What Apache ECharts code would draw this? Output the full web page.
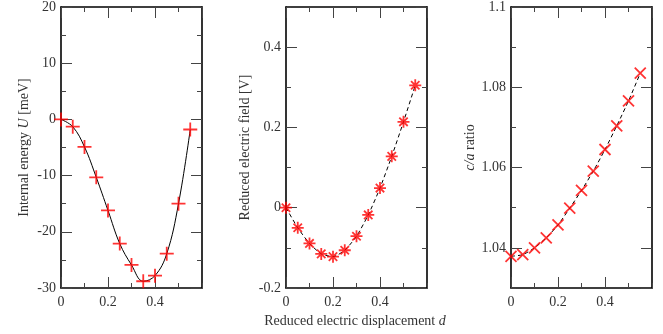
<!DOCTYPE html>
<html>
<head>
<meta charset="utf-8">
<script src="https://cdn.jsdelivr.net/npm/echarts@6/dist/echarts.min.js"></script>
<style>html,body{margin:0;padding:0;background:#fff}#c{width:663px;height:334px}</style>
</head>
<body>
<div id="c"></div>
<script>
// Data
var dValues = [0, 0.05, 0.1, 0.15, 0.2, 0.25, 0.3, 0.35, 0.4, 0.45, 0.5, 0.55];
var energyU = [0, -1.3, -4.9, -10.3, -16.2, -22.1, -25.9, -28.8, -27.8, -23.9, -15.0, -1.8];
var fieldE = [0, -0.050, -0.089, -0.115, -0.122, -0.106, -0.071, -0.018, 0.049, 0.128, 0.214, 0.305];
var caRatio = [1.0379, 1.0383, 1.0400, 1.0425, 1.0457, 1.0499, 1.0543, 1.0591, 1.0645, 1.0704, 1.0766, 1.0835];
var xLabelTitle = 'Reduced electric displacement ';
var yTitles = [
  ['Internal energy ', 'U', ' [meV]'],
  ['Reduced electric field [V]', '', ''],
  ['', 'c/a', ' ratio']
];

var FONT = '"Liberation Serif", "DejaVu Serif", serif';
var lefts = [61, 286, 511];
var W = 141, TOP = 7, H = 281;
var yCfg = [
  {min: -30, max: 20, major: 10, minor: 5, useInterval: true, hideMax: false, hideMin: false, gap: 30},
  {min: -0.2, max: 0.5, major: 0.2, minor: 0.1, useInterval: true, hideMax: true, hideMin: false, gap: 34},
  {min: 1.03, max: 1.1, major: null, minor: 0.01, useInterval: false, hideMax: false, hideMin: true, gap: 34}
];

function pair(arrX, arrY) { return arrX.map(function (x, i) { return [x, arrY[i]]; }); }

var grids = [], xAxes = [], yAxes = [], series = [];
var tickMajor = {show: true, inside: true, length: 11, lineStyle: {color: '#444', width: 1}};
var tickMinor = {show: true, inside: true, length: 5, lineStyle: {color: '#444', width: 1}};
var axLine = {show: true, onZero: false, lineStyle: {color: '#000', width: 1.6}};
var noLine = {show: false, onZero: false};

for (var g = 0; g < 3; g++) {
  grids.push({left: lefts[g], top: TOP, width: W, height: H, containLabel: false});
  ['bottom', 'top'].forEach(function (pos) {
    xAxes.push({type: 'value', gridIndex: g, position: pos, min: 0, max: 0.6, interval: 0.2,
      axisLine: axLine, axisTick: tickMajor, splitLine: {show: false},
      axisLabel: {show: pos === 'bottom', showMaxLabel: false, margin: 7,
        fontFamily: FONT, fontSize: 14, color: '#333'}});
    xAxes.push({type: 'value', gridIndex: g, position: pos, min: 0, max: 0.6, interval: 0.1,
      axisLine: noLine, axisTick: tickMinor, splitLine: {show: false}, axisLabel: {show: false}});
  });
  var c = yCfg[g];
  ['left', 'right'].forEach(function (pos) {
    var ax = {type: 'value', gridIndex: g, position: pos, min: c.min, max: c.max,
      axisLine: axLine, axisTick: tickMajor, splitLine: {show: false},
      axisLabel: {show: pos === 'left', showMaxLabel: !c.hideMax, showMinLabel: !c.hideMin, margin: 5,
        fontFamily: FONT, fontSize: 14, color: '#333'}};
    if (c.useInterval) ax.interval = c.major; else ax.splitNumber = 4;
    if (pos === 'left') {
      var t = yTitles[g];
      ax.name = (t[0] ? '{n|' + t[0] + '}' : '') + (t[1] ? '{i|' + t[1] + '}' : '') + (t[2] ? '{n|' + t[2] + '}' : '');
      ax.nameLocation = 'middle';
      ax.nameRotate = 90;
      ax.nameGap = c.gap;
      ax.nameTextStyle = {rich: {
        n: {fontFamily: FONT, fontSize: 14, color: '#333'},
        i: {fontFamily: FONT, fontSize: 14, color: '#333', fontStyle: 'italic'}
      }};
    }
    yAxes.push(ax);
    yAxes.push({type: 'value', gridIndex: g, position: pos, min: c.min, max: c.max, interval: c.minor,
      axisLine: noLine, axisTick: tickMinor, splitLine: {show: false}, axisLabel: {show: false}});
  });
}

var plusSym = 'path://M0,5L10,5M5,0L5,10';
var starSym = 'path://M0,5L10,5M5,0L5,10M1.5,1.5L8.5,8.5M8.5,1.5L1.5,8.5';
var xSym = 'path://M0,0L10,10M10,0L0,10';

var panelData = [energyU, fieldE, caRatio];
var syms = [plusSym, starSym, xSym];
var sizes = [14, 12, 11];
var dashed = [false, true, true];
for (var p = 0; p < 3; p++) {
  series.push({type: 'line', xAxisIndex: p * 4, yAxisIndex: p * 4, data: pair(dValues, panelData[p]),
    smooth: p === 0 ? 0.4 : 0.2, showSymbol: false, symbol: 'none', silent: true, z: 2,
    lineStyle: {color: '#000', width: 1, type: dashed[p] ? [4, 3] : 'solid'}});
  series.push({type: 'scatter', xAxisIndex: p * 4, yAxisIndex: p * 4, data: pair(dValues, panelData[p]),
    symbol: syms[p], symbolSize: sizes[p], z: 3,
    itemStyle: {color: 'rgba(0,0,0,0)', borderColor: '#ff0000', borderWidth: 1.8}});
}

var chart = echarts.init(document.getElementById('c'), null, {renderer: 'canvas'});
chart.setOption({
  animation: false,
  backgroundColor: '#fff',
  grid: grids,
  xAxis: xAxes,
  yAxis: yAxes,
  series: series,
  graphic: [{
    type: 'text', x: 355, y: 321,
    style: {text: '{n|' + xLabelTitle + '}{i|d}', align: 'center', verticalAlign: 'middle',
      rich: {
        n: {fontFamily: FONT, fontSize: 14, fill: '#333'},
        i: {fontFamily: FONT, fontSize: 14, fill: '#333', fontStyle: 'italic'}
      }}
  }]
});
</script>
</body>
</html>
